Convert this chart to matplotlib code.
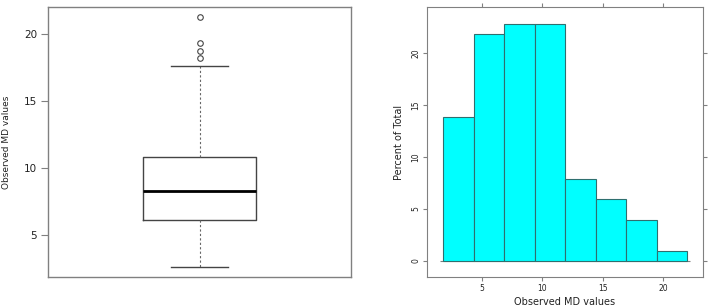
import numpy as np
import matplotlib.pyplot as plt

box_q1 = 6.1
box_median = 8.3
box_q3 = 10.85
whisker_low = 2.6
whisker_high = 17.6
outliers = [18.2, 18.7, 19.3, 21.25]

# Histogram: bin edges and percent of total (lattice style)
bin_edges = [1.8, 4.33, 6.85, 9.38, 11.9, 14.43, 16.95, 19.48, 22.0]
percent = [13.86, 21.78, 22.77, 22.77, 7.92, 5.94, 3.96, 0.99]

frame_col = '#808080'
text_col = '#222222'

fig = plt.figure(figsize=(7.09, 3.08), dpi=100)

# ---- left panel: base R style boxplot
ax1 = fig.add_axes([0.0677, 0.1006, 0.4274, 0.8766])
stats = [dict(med=box_median, q1=box_q1, q3=box_q3,
              whislo=whisker_low, whishi=whisker_high, fliers=outliers)]
ax1.bxp(stats, positions=[1], widths=0.4, capwidths=0.2,
        boxprops=dict(color='#444444', linewidth=1.0),
        medianprops=dict(color='black', linewidth=2.0),
        whiskerprops=dict(color='#666666', linewidth=0.8, linestyle=(0, (2, 2))),
        capprops=dict(color='#444444', linewidth=1.0),
        flierprops=dict(marker='o', markersize=4, markerfacecolor='none',
                        markeredgecolor='#444444', markeredgewidth=0.8))
ax1.set_xlim(0.46, 1.54)
ax1.set_ylim(1.87, 22.0)
ax1.set_xticks([])
ax1.set_yticks([5, 10, 15, 20])
ax1.tick_params(axis='y', direction='out', length=5, color=frame_col,
                labelsize=7.5, labelcolor=text_col, pad=3)
ax1.set_ylabel('Observed MD values', fontsize=6.5, color=text_col, labelpad=9)
for sp in ax1.spines.values():
    sp.set_color(frame_col)
    sp.set_linewidth(1.0)

# ---- right panel: lattice style histogram
ax2 = fig.add_axes([0.6023, 0.1006, 0.3893, 0.8766])
edges = np.array(bin_edges)
ax2.bar(edges[:-1], percent, width=np.diff(edges), align='edge',
        color='#00FFFF', edgecolor='#2f6f6f', linewidth=0.8, zorder=2)
ax2.hlines(0, edges[0] - 0.25, edges[-1] + 0.25, color=frame_col,
           linewidth=0.8, zorder=1)
ax2.set_xlim(0.44, 23.3)
ax2.set_ylim(-1.54, 24.4)
ax2.set_xticks([5, 10, 15, 20])
ax2.set_yticks([0, 5, 10, 15, 20])
ax2.tick_params(direction='out', length=3, color=frame_col, labelsize=5.5,
                labelcolor=text_col, top=True, right=True, pad=2)
ax2.tick_params(axis='y', labelrotation=90)
for lab in ax2.get_yticklabels():
    lab.set_va('center')
ax2.set_xlabel('Observed MD values', fontsize=7, color=text_col, labelpad=3)
ax2.set_ylabel('Percent of Total', fontsize=7, color=text_col, labelpad=5)
for sp in ax2.spines.values():
    sp.set_color(frame_col)
    sp.set_linewidth(0.8)

fig.savefig('out.png', dpi=100)
